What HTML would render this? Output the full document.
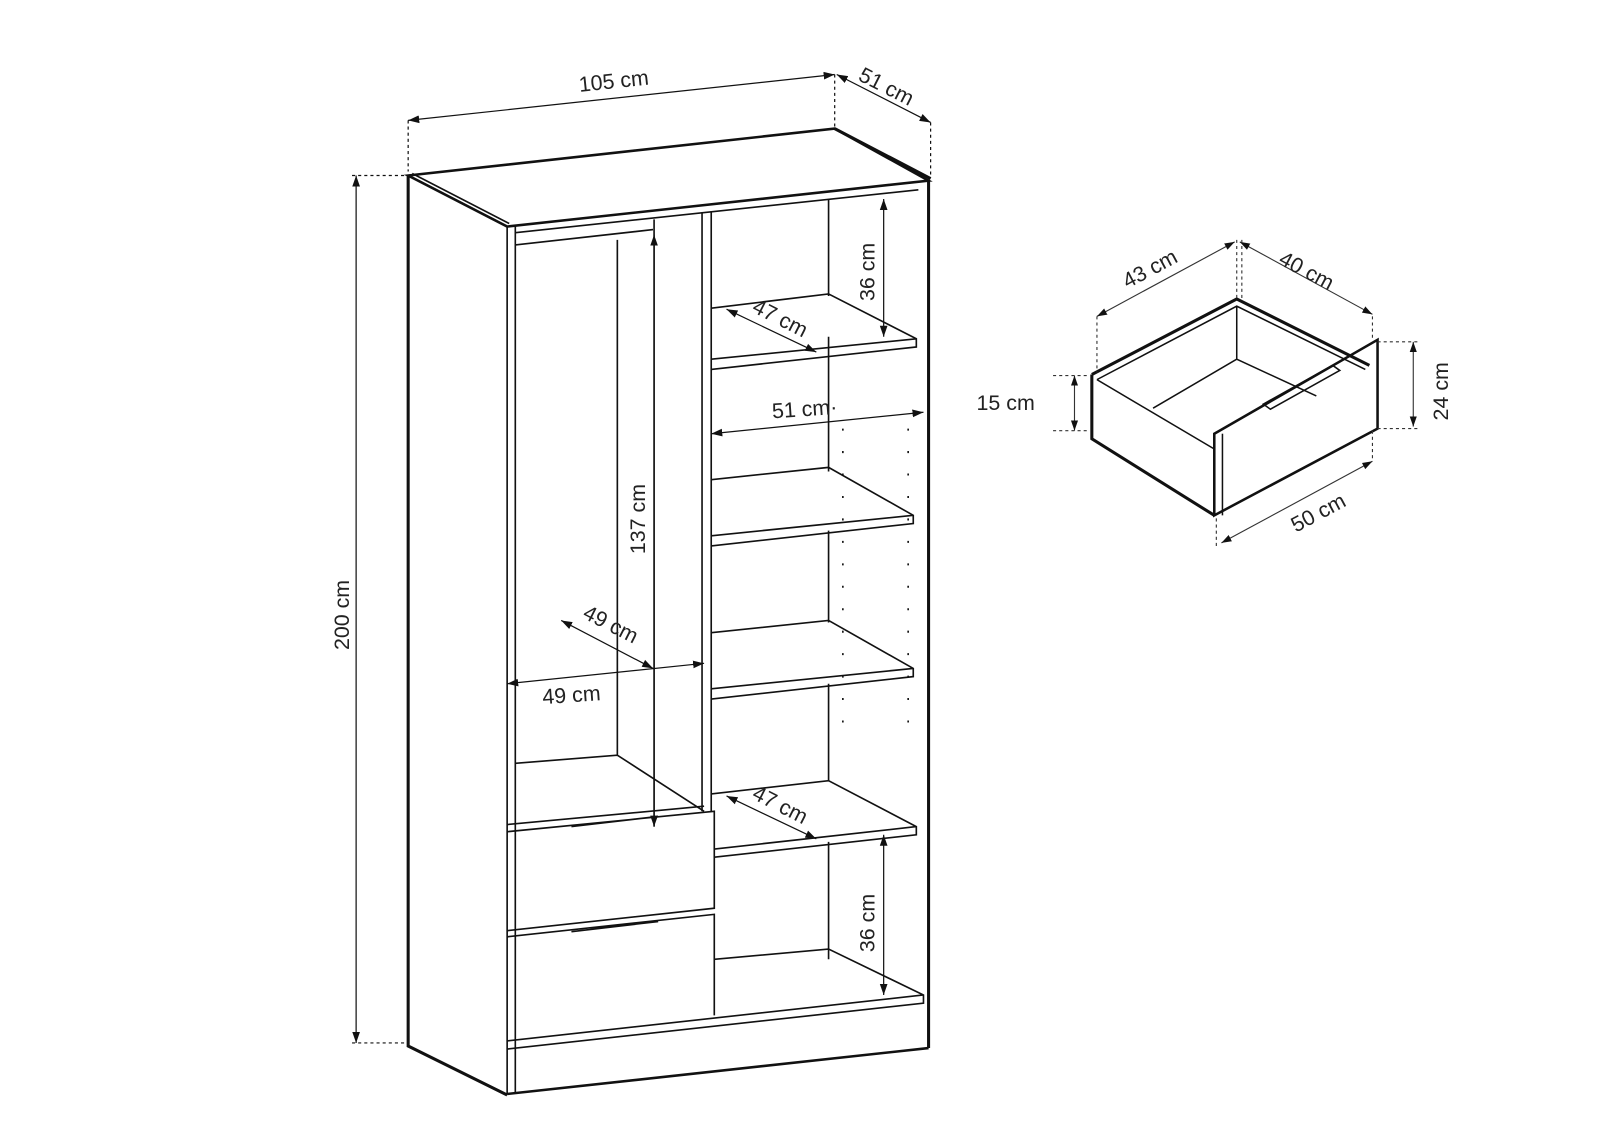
<!DOCTYPE html>
<html><head><meta charset="utf-8"><style>html,body{margin:0;padding:0;background:#fff}svg{display:block}text{font-family:"Liberation Sans",sans-serif;font-size:21px;fill:#222}</style></head><body>
<svg width="1600" height="1145" viewBox="0 0 1568 1122" preserveAspectRatio="none" xmlns="http://www.w3.org/2000/svg">
<defs><marker id="a" viewBox="0 0 10 10" refX="10" refY="5" markerWidth="9" markerHeight="9" orient="auto-start-reverse"><path d="M0,1.5 L10,5 L0,8.5 z" fill="#111"/></marker></defs>
<g stroke="#111" fill="none" stroke-width="1.6">
<path d="M400,172 L818,126 L910,177 L497,222 Z" stroke-width="2.5"/>
<path d="M400,172 L400,1025 L497,1073" stroke-width="3"/>
<path d="M910,177 L910,1027" stroke-width="3"/>
<path d="M497,222 L497,1072 M505,222 L505,1072"/>
<path d="M497,1072 L910,1027" stroke-width="2.5"/>
<path d="M818,126 L912,175" stroke-width="3"/>
<path d="M404,170 L499,219"/>
<path d="M505,228 L900,186 M505,240 L640,225"/>
<path d="M605,235 L605,740 M505,748 L605,740 L690,795"/>
<path d="M688,208 L688,795 M697,207 L697,795"/>
<path d="M641,215 L641,810"/>
<path d="M812,195 L812,290 M812,330 L812,462 M812,520 L812,610 M812,670 L812,765 M812,825 L812,940"/>
<path d="M697,302 L812,288 L898,332 L898,340 L697,362 M697,352 L898,332"/>
<path d="M697,470 L812,458 L895,505 L895,513 L697,535 M697,525 L895,505"/>
<path d="M697,620 L812,608 L895,655 L895,663 L697,685 M697,675 L895,655"/>
<path d="M697,778 L812,765 L898,810 L898,818 L700,840 M700,832 L898,810"/>
<path d="M700,940 L812,930 L905,975 L905,983 L497,1028 M497,1020 L905,975"/>
<path d="M497,808 L690,790 M497,815 L700,795 L700,890 L497,912 M497,918 L700,896 L700,995 M560,810 L645,800 M560,913 L645,903"/>
<g stroke-dasharray="2,20"><path d="M826,420 L826,720 M890,420 L890,720"/></g>
</g>
<g stroke="#111" stroke-width="1.2" fill="none">
<path d="M400,118 L818,73" marker-start="url(#a)" marker-end="url(#a)"/>
<path d="M820,73 L912,120" marker-start="url(#a)" marker-end="url(#a)"/>
<path d="M349,172 L349,1022" marker-start="url(#a)" marker-end="url(#a)"/>
<path d="M866,195 L866,330" marker-start="url(#a)" marker-end="url(#a)"/>
<path d="M866,818 L866,975" marker-start="url(#a)" marker-end="url(#a)"/>
<path d="M712,303 L800,345" marker-start="url(#a)" marker-end="url(#a)"/>
<path d="M712,780 L800,822" marker-start="url(#a)" marker-end="url(#a)"/>
<path d="M697,425 L905,404" marker-start="url(#a)" marker-end="url(#a)"/>
<path d="M641,230 L641,810" marker-start="url(#a)" marker-end="url(#a)"/>
<path d="M550,608 L640,655" marker-start="url(#a)" marker-end="url(#a)"/>
<path d="M497,670 L690,650" marker-start="url(#a)" marker-end="url(#a)"/>
<g stroke-dasharray="3,3"><path d="M400,118 L400,168 M818,73 L818,124 M912,120 L912,172 M345,172 L398,172 M345,1022 L398,1022"/></g>
</g>
<text transform="translate(568,90) rotate(-6)">105 cm</text>
<text transform="translate(840,78) rotate(27)">51 cm</text>
<text transform="translate(342,637) rotate(-90)">200 cm</text>
<text transform="translate(857,295) rotate(-90)">36 cm</text>
<text transform="translate(857,933) rotate(-90)">36 cm</text>
<text transform="translate(736,305) rotate(27)">47 cm</text>
<text transform="translate(736,782) rotate(27)">47 cm</text>
<text transform="translate(757,410) rotate(-4)">51 cm·</text>
<text transform="translate(632,543) rotate(-90)">137 cm</text>
<text transform="translate(570,605) rotate(27)">49 cm</text>
<text transform="translate(532,690) rotate(-4)">49 cm</text>
<g stroke="#111" fill="none" stroke-width="1.5">
<path d="M1070,367 L1212,293 L1342,358" stroke-width="3"/>
<path d="M1075,372 L1212,300 L1338,362"/>
<path d="M1070,367 L1070,430 L1190,505" stroke-width="3"/>
<path d="M1075,372 L1190,440"/>
<path d="M1212,300 L1212,352 L1130,400 M1212,352 L1290,388"/>
<path d="M1190,425 L1350,333 L1350,420 L1190,505 Z" stroke-width="2.5"/>
<path d="M1198,425 L1198,505"/>
<path d="M1238,396 L1306,358 L1313,363 L1245,401 Z"/>
</g>
<g stroke="#333" stroke-width="1.1" fill="none">
<path d="M1075,310 L1210,237" marker-start="url(#a)" marker-end="url(#a)"/>
<path d="M1215,237 L1345,308" marker-start="url(#a)" marker-end="url(#a)"/>
<path d="M1385,335 L1385,418" marker-start="url(#a)" marker-end="url(#a)"/>
<path d="M1053,368 L1053,422" marker-start="url(#a)" marker-end="url(#a)"/>
<path d="M1197,532 L1345,452" marker-start="url(#a)" marker-end="url(#a)"/>
<g stroke-dasharray="3,3"><path d="M1075,310 L1075,365 M1212,235 L1212,292 M1217,235 L1217,292 M1345,310 L1345,332 M1350,335 L1390,335 M1350,420 L1390,420 M1032,368 L1068,368 M1032,422 L1068,422 M1192,508 L1192,535 M1345,422 L1345,450"/></g>
</g>
<text transform="translate(1105,283) rotate(-28)">43 cm</text>
<text transform="translate(1252,258) rotate(28)">40 cm</text>
<text transform="translate(1419,412) rotate(-90)">24 cm</text>
<text x="957" y="402">15 cm</text>
<text transform="translate(1270,522) rotate(-28)">50 cm</text>
</svg>
</body></html>
